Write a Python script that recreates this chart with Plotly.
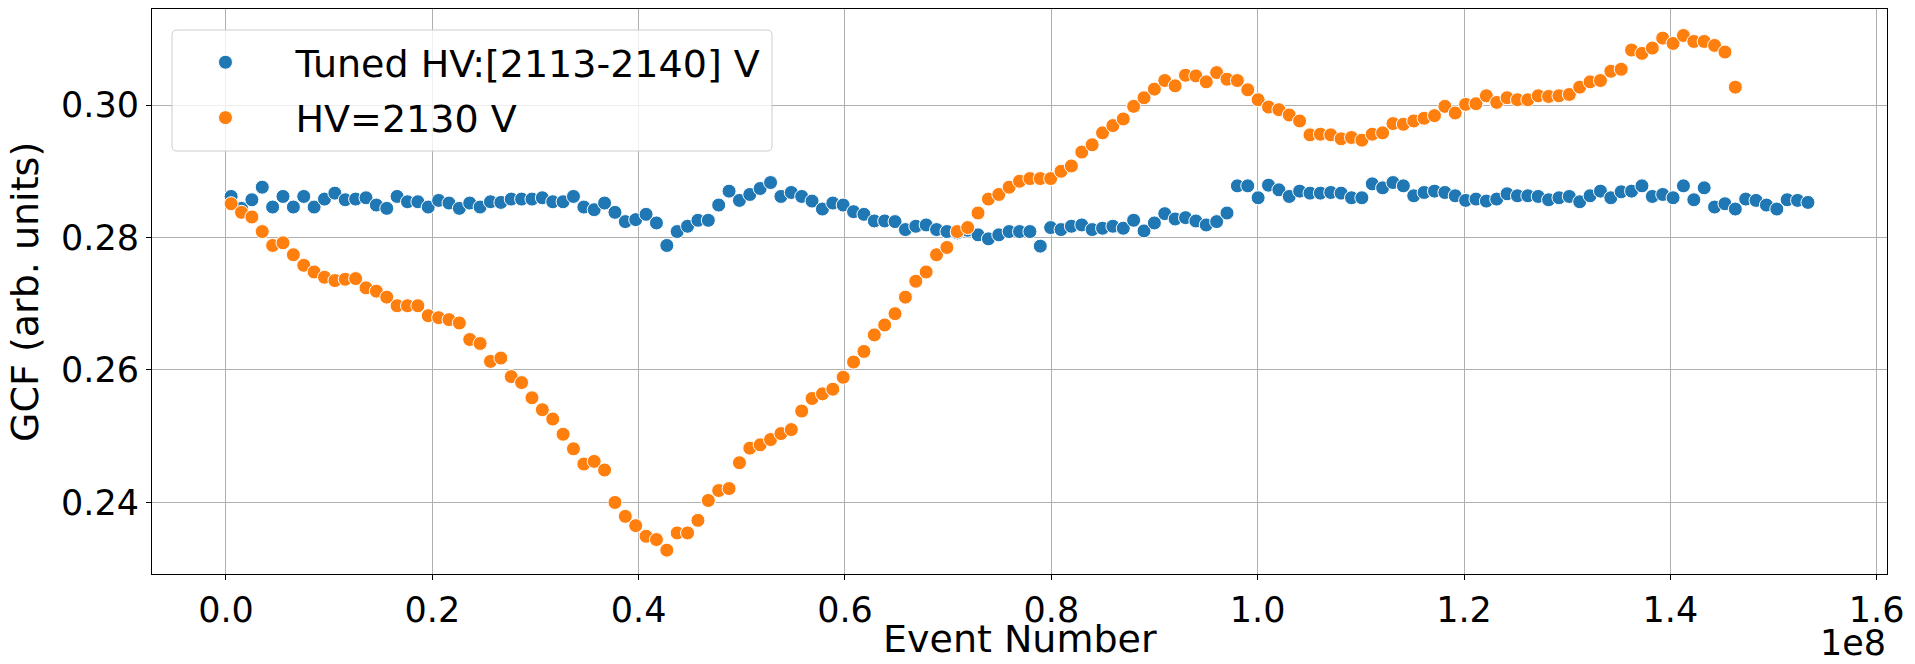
import numpy as np
import plotly.graph_objects as go

# ---- data ----
X_START = 5.0e5          # first event-number bin
X_STEP = 1.0055e6        # spacing between points

tuned_gcf = [
    0.2862, 0.2844, 0.2857, 0.2876, 0.2846, 0.2862, 0.2846, 0.2862, 0.2846, 0.2858,
    0.2867, 0.2857, 0.2858, 0.2860, 0.2849, 0.2844, 0.2862, 0.2854, 0.2854, 0.2846,
    0.2856, 0.2852, 0.2844, 0.2852, 0.2846, 0.2854, 0.2853, 0.2858, 0.2858, 0.2858,
    0.2860, 0.2854, 0.2854, 0.2862, 0.2846, 0.2842, 0.2852, 0.2838, 0.2824, 0.2827,
    0.2835, 0.2822, 0.2788, 0.2809, 0.2817, 0.2826, 0.2826, 0.2849, 0.2870, 0.2856,
    0.2865, 0.2874, 0.2883, 0.2862, 0.2868, 0.2862, 0.2855, 0.2843, 0.2852, 0.2849,
    0.2839, 0.2835, 0.2825, 0.2825, 0.2824, 0.2812, 0.2817, 0.2819, 0.2812, 0.2809,
    0.2807, 0.2811, 0.2804, 0.2798, 0.2804, 0.2809, 0.2809, 0.2809, 0.2787, 0.2815,
    0.2812, 0.2817, 0.2819, 0.2812, 0.2814, 0.2817, 0.2814, 0.2826, 0.2810, 0.2822,
    0.2836, 0.2828, 0.2830, 0.2825, 0.2819, 0.2824, 0.2837, 0.2878, 0.2878, 0.2860,
    0.2879, 0.2872, 0.2862, 0.2870, 0.2867, 0.2867, 0.2868, 0.2867, 0.2860, 0.2860,
    0.2881, 0.2875, 0.2883, 0.2878, 0.2863, 0.2868, 0.2870, 0.2868, 0.2863, 0.2856,
    0.2858, 0.2855, 0.2858, 0.2866, 0.2863, 0.2863, 0.2862, 0.2857, 0.2860, 0.2862,
    0.2854, 0.2863, 0.2870, 0.2860, 0.2869, 0.2870, 0.2878, 0.2862, 0.2865, 0.2860,
    0.2878, 0.2857, 0.2875, 0.2846, 0.2851, 0.2843, 0.2858, 0.2856, 0.2849, 0.2843,
    0.2857, 0.2856, 0.2853,
]

fixed_gcf = [
    0.2851, 0.2838, 0.2831, 0.2809, 0.2788, 0.2792, 0.2774, 0.2758, 0.2748, 0.2740,
    0.2735, 0.2737, 0.2738, 0.2724, 0.2719, 0.2710, 0.2697, 0.2697, 0.2697, 0.2682,
    0.2679, 0.2676, 0.2671, 0.2646, 0.2640, 0.2613, 0.2618, 0.2590, 0.2581, 0.2558,
    0.2540, 0.2526, 0.2503, 0.2481, 0.2458, 0.2462, 0.2449, 0.2400, 0.2379, 0.2365,
    0.2349, 0.2344, 0.2328, 0.2354, 0.2354, 0.2373, 0.2403, 0.2418, 0.2421, 0.2460,
    0.2482, 0.2487, 0.2495, 0.2504, 0.2510, 0.2538, 0.2557, 0.2564, 0.2571, 0.2589,
    0.2612, 0.2628, 0.2653, 0.2668, 0.2685, 0.2710, 0.2734, 0.2748, 0.2774, 0.2785,
    0.2809, 0.2815, 0.2837, 0.2858, 0.2865, 0.2876, 0.2885, 0.2889, 0.2889, 0.2889,
    0.2900, 0.2908, 0.2929, 0.2940, 0.2958, 0.2969, 0.2979, 0.2998, 0.3011, 0.3024,
    0.3037, 0.3029, 0.3045, 0.3044, 0.3035, 0.3049, 0.3039, 0.3037, 0.3023, 0.3008,
    0.2997, 0.2993, 0.2985, 0.2976, 0.2955, 0.2956, 0.2955, 0.2949, 0.2951, 0.2947,
    0.2956, 0.2958, 0.2972, 0.2971, 0.2976, 0.2980, 0.2984, 0.2998, 0.2988, 0.3001,
    0.3002, 0.3014, 0.3004, 0.3011, 0.3008, 0.3008, 0.3014, 0.3013, 0.3014, 0.3016,
    0.3027, 0.3035, 0.3037, 0.3051, 0.3054, 0.3083, 0.3078, 0.3086, 0.3101, 0.3093,
    0.3105, 0.3096, 0.3096, 0.3090, 0.3080, 0.3027,
]

series_names = ["Tuned HV:[2113-2140] V", "HV=2130 V"]
series_colors = ["#1f77b4", "#ff7f0e"]

x_tick_vals = [0, 2e7, 4e7, 6e7, 8e7, 1.0e8, 1.2e8, 1.4e8, 1.6e8]
x_tick_text = ["0.0", "0.2", "0.4", "0.6", "0.8", "1.0", "1.2", "1.4", "1.6"]
y_tick_vals = [0.24, 0.26, 0.28, 0.30]

tuned_x = X_START + X_STEP * np.arange(len(tuned_gcf))
fixed_x = X_START + X_STEP * np.arange(len(fixed_gcf))

FONT = "DejaVu Sans"
TICK_SIZE = 35
LABEL_SIZE = 38

W, H = 1915, 664
ML, MR, MT, MB = 152, 28, 9, 90
PW, PH = W - ML - MR, H - MT - MB

fig = go.Figure()
for i, (xs, ys) in enumerate([(tuned_x, tuned_gcf), (fixed_x, fixed_gcf)]):
    fig.add_trace(go.Scatter(
        x=xs, y=ys, mode="markers", name=series_names[i],
        legendgroup=f"g{i}",
        marker=dict(size=14, color=series_colors[i],
                    line=dict(width=1, color="white")),
    ))

axis_common = dict(
    showline=True, mirror=True, linecolor="black", linewidth=1,
    showgrid=True, gridcolor="#b0b0b0", gridwidth=1, zeroline=False,
    ticks="outside", ticklen=5, tickwidth=1, tickcolor="black",
    tickfont=dict(family=FONT, size=TICK_SIZE, color="black"),
    automargin=False,
)

# legend frame (rounded, semi-transparent) in paper coordinates
def px_x(p):
    return (p - ML) / PW

def px_y(p):
    return (H - MB - p) / PH

bx0, bx1 = px_x(172), px_x(772)
by0, by1 = px_y(151), px_y(30)
rx, ry = 5 / PW, 5 / PH
box_path = (
    f"M {bx0+rx},{by0} L {bx1-rx},{by0} Q {bx1},{by0} {bx1},{by0+ry} "
    f"L {bx1},{by1-ry} Q {bx1},{by1} {bx1-rx},{by1} "
    f"L {bx0+rx},{by1} Q {bx0},{by1} {bx0},{by1-ry} "
    f"L {bx0},{by0+ry} Q {bx0},{by0} {bx0+rx},{by0} Z"
)

fig.update_layout(
    width=W, height=H,
    margin=dict(l=ML, r=MR, t=MT, b=MB),
    paper_bgcolor="white", plot_bgcolor="white",
    font=dict(family=FONT, color="black"),
    xaxis=dict(
        range=[-7.17e6, 1.61e8], tickmode="array",
        tickvals=x_tick_vals, ticktext=x_tick_text,
        **axis_common,
    ),
    yaxis=dict(
        range=[0.2292, 0.3145], tickmode="array", tickvals=y_tick_vals,
        tickformat=".2f",
        **axis_common,
    ),
    legend=dict(
        x=0.002, y=0.961, xanchor="left", yanchor="top",
        bgcolor="rgba(0,0,0,0)", borderwidth=0,
        font=dict(family=FONT, size=LABEL_SIZE, color="black"),
        itemwidth=130, traceorder="grouped", tracegroupgap=3,
    ),
    showlegend=True,
    shapes=[dict(
        type="path", xref="paper", yref="paper", path=box_path,
        fillcolor="rgba(255,255,255,0.8)", line=dict(color="#cccccc", width=1),
        layer="above",
    )],
)

# axis titles and offset text
fig.add_annotation(
    text="Event Number", xref="paper", yref="paper", x=0.5, y=-0.1155,
    xanchor="center", yanchor="middle", showarrow=False, borderpad=0,
    font=dict(family=FONT, size=LABEL_SIZE, color="black"),
)
fig.add_annotation(
    text="GCF (arb. units)", xref="paper", yref="paper", x=-0.0735, y=0.5,
    xanchor="center", yanchor="middle", textangle=-90, showarrow=False,
    font=dict(family=FONT, size=LABEL_SIZE, color="black"),
)
fig.add_annotation(
    text="1e8", xref="paper", yref="paper", x=1.0, y=-0.1585,
    xanchor="right", yanchor="bottom", showarrow=False, borderpad=0,
    font=dict(family=FONT, size=TICK_SIZE, color="black"),
)

fig.write_html("out.html", config={"displayModeBar": False},
               post_script="document.body.style.margin='0';")
